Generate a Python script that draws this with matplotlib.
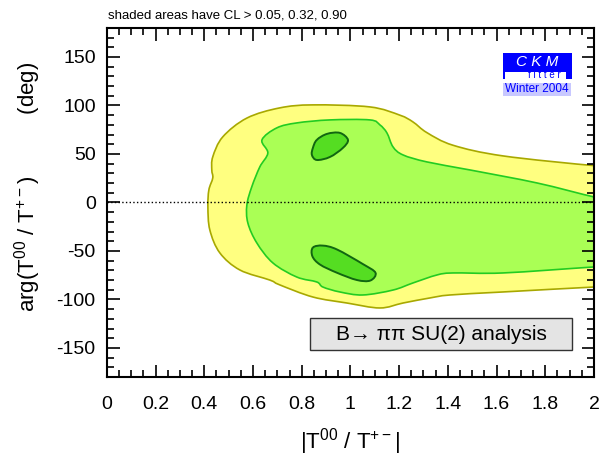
import matplotlib
matplotlib.use("Agg")
import matplotlib.pyplot as plt
from matplotlib.patches import PathPatch, Rectangle
from matplotlib.path import Path
from matplotlib.ticker import MultipleLocator

plt.rcParams['font.family'] = ['Liberation Sans', 'DejaVu Sans']
plt.rcParams['mathtext.fontset'] = 'custom'
plt.rcParams['mathtext.rm'] = 'Liberation Sans'
plt.rcParams['mathtext.default'] = 'regular'
plt.rcParams['axes.unicode_minus'] = False

# contour outlines: |T00/T+-| and arg (deg)
cl05_x = [2.05, 2.0, 1.626, 1.421, 1.314, 1.257, 1.203, 1.080, 0.846, 0.710, 0.575, 0.476,
          0.435, 0.431, 0.435, 0.419, 0.415, 0.423, 0.464, 0.546, 0.669, 0.710, 0.846,
          0.986, 1.121, 1.216, 1.326, 1.409, 1.626, 2.0, 2.05]
cl05_y = [39, 38, 48, 59, 72, 83, 90, 98.5, 100.6, 97.5, 87, 67.6,
          47, 33.5, 25.3, 12.9, -4.6, -28.4, -52, -69.6, -80, -85, -97.5,
          -103.7, -108.8, -103.7, -98.5, -95.4, -92.3, -87.2, -87]

cl32_x = [2.05, 2.0, 1.766, 1.491, 1.314, 1.216, 1.175, 1.150, 1.121, 1.080, 0.916, 0.780,
          0.698, 0.637, 0.661, 0.628, 0.595, 0.575, 0.579, 0.616, 0.682, 0.780, 0.862,
          0.887, 0.957, 1.051, 1.175, 1.257, 1.355, 1.421, 1.626, 2.0, 2.05]
cl32_y = [5, 5.7, 20.1, 33.5, 41.8, 49, 57.3, 71.7, 80, 85.1, 85.1, 82,
          76.9, 64.5, 51, 36.6, 16, -2.6, -21.1, -41.8, -62.4, -76.9, -82,
          -87.2, -92.3, -95.4, -90.3, -83, -74.8, -72.7, -72.7, -66.5, -66]

cl90a_x = [0.862, 0.904, 0.957, 0.990, 0.969, 0.916, 0.862, 0.842, 0.846]
cl90a_y = [64.5, 70.7, 71.7, 64.5, 56.2, 46.9, 43.8, 49, 56.2]
cl90b_x = [0.846, 0.887, 0.945, 1.051, 1.103, 1.082, 1.027, 0.945, 0.875, 0.844]
cl90b_y = [-46.5, -44.5, -48.5, -63.5, -72.5, -80.5, -80, -72.5, -64, -55.5]

x_ticks = [0, 0.2, 0.4, 0.6, 0.8, 1, 1.2, 1.4, 1.6, 1.8, 2]
x_labels = ['0', '0.2', '0.4', '0.6', '0.8', '1', '1.2', '1.4', '1.6', '1.8', '2']
y_ticks = [-150, -100, -50, 0, 50, 100, 150]


def smooth_path(xs, ys):
    # closed curve through the read points (Catmull-Rom as cubic Bezier pieces)
    pts = list(zip(xs, ys))
    n = len(pts)
    verts = [pts[0]]
    codes = [Path.MOVETO]
    for i in range(n):
        p0, p1 = pts[i - 1], pts[i]
        p2, p3 = pts[(i + 1) % n], pts[(i + 2) % n]
        c1 = (p1[0] + (p2[0] - p0[0]) / 6, p1[1] + (p2[1] - p0[1]) / 6)
        c2 = (p2[0] - (p3[0] - p1[0]) / 6, p2[1] - (p3[1] - p1[1]) / 6)
        verts += [c1, c2, p2]
        codes += [Path.CURVE4] * 3
    return Path(verts, codes)


fig = plt.figure(figsize=(6, 4.57), dpi=100)
ax = fig.add_axes([0.178, 0.175, 0.812, 0.764])

ax.add_patch(PathPatch(smooth_path(cl05_x, cl05_y), fc='#ffff80', ec='#a8a800', lw=1.2))
ax.add_patch(PathPatch(smooth_path(cl32_x, cl32_y), fc='#aaff55', ec='#22cc22', lw=1.2))
ax.add_patch(PathPatch(smooth_path(cl90a_x, cl90a_y), fc='#55dd22', ec='#116611', lw=1.4))
ax.add_patch(PathPatch(smooth_path(cl90b_x, cl90b_y), fc='#55dd22', ec='#116611', lw=1.4))

ax.axhline(0, color='black', ls=':', lw=1)

ax.set_xlim(0, 2)
ax.set_ylim(-180, 180)
ax.xaxis.set_minor_locator(MultipleLocator(0.05))
ax.yaxis.set_minor_locator(MultipleLocator(10))
ax.set_xticks(x_ticks)
ax.set_xticklabels(x_labels)
ax.set_yticks(y_ticks)
ax.tick_params(which='both', direction='in', top=True, right=True, width=1.2, labelsize=14)
ax.tick_params(which='major', length=9)
ax.tick_params(which='minor', length=5)
ax.tick_params(axis='x', which='major', pad=14)
ax.tick_params(axis='y', which='major', pad=8)
for s in ax.spines.values():
    s.set_linewidth(1.5)

ax.set_xlabel(r'|T$^{00}$ / T$^{+-}$|', fontsize=16)
ax.xaxis.set_label_coords(0.5, -0.14)
ax.set_ylabel(r'arg(T$^{00}$ / T$^{+-}$)          (deg)', fontsize=16)
ax.yaxis.set_label_coords(-0.13, 0.545)

fig.text(0.18, 0.965, 'shaded areas have CL > 0.05, 0.32, 0.90', fontsize=9.5, va='center')

# analysis box
ax.add_patch(Rectangle((0.417, 0.077), 0.538, 0.092, transform=ax.transAxes,
                       fc='#e4e4e4', ec='#333333', lw=1, zorder=5))
ax.text(0.686, 0.123, 'B\u2192 \u03c0\u03c0 SU(2) analysis', transform=ax.transAxes,
        ha='center', va='center', fontsize=15, zorder=6)


# CKMfitter logo (figure pixel coords)
def fbox(x0, y0, x1, y1, **kw):
    fig.patches.append(Rectangle((x0 / 600, 1 - y1 / 457), (x1 - x0) / 600, (y1 - y0) / 457,
                                 transform=fig.transFigure, **kw))


fbox(503, 53, 572, 79, fc='#0000ff', ec='none')
fbox(505, 72, 566, 79, fc='white', ec='none')
fbox(503, 83, 571, 96, fc='#c8c8ff', ec='none')
fig.text(537 / 600, 1 - 62.5 / 457, 'C K M', color='white', fontsize=11, style='italic',
         ha='center', va='center')
fig.text(544 / 600, 1 - 75.5 / 457, 'f i t t e r', color='#0000ff', fontsize=7,
         ha='center', va='center')
fig.text(537 / 600, 1 - 89.5 / 457, 'Winter 2004', color='#0000ff', fontsize=8.5,
         ha='center', va='center')

fig.savefig('out.png', dpi=100)
